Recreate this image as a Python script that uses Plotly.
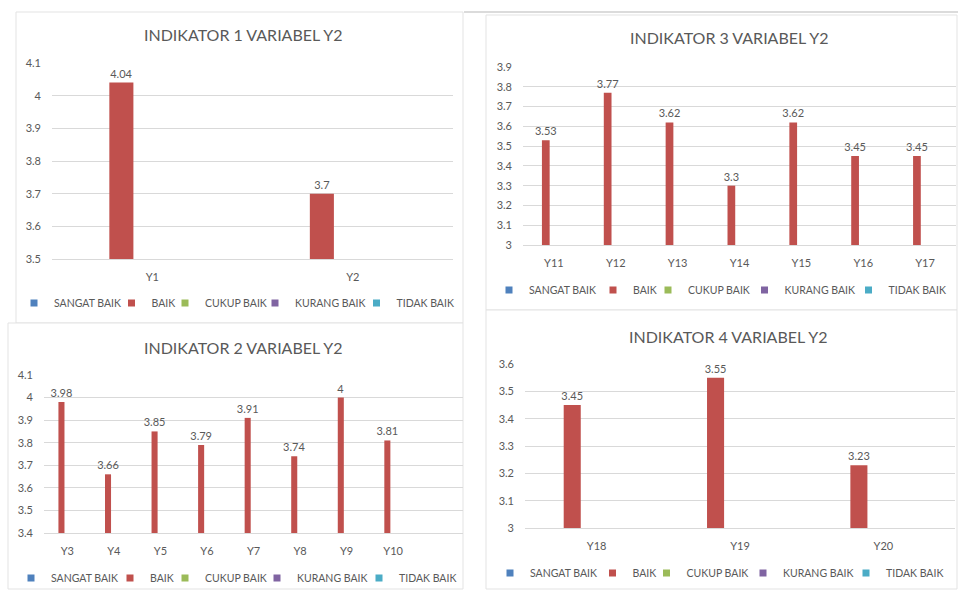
import plotly.graph_objects as go

# ---------------- data ----------------
SERIES = ["SANGAT BAIK", "BAIK", "CUKUP BAIK", "KURANG BAIK", "TIDAK BAIK"]
SERIES_COLORS = ["#4F81BD", "#C0504D", "#9BBB59", "#8064A2", "#4BACC6"]

TITLES = ["INDIKATOR 1 VARIABEL Y2", "INDIKATOR 2 VARIABEL Y2",
          "INDIKATOR 3 VARIABEL Y2", "INDIKATOR 4 VARIABEL Y2"]

CAT_1 = ["Y1", "Y2"]
BAIK_1 = [4.04, 3.7]
YRANGE_1 = [3.5, 4.1]

CAT_2 = ["Y3", "Y4", "Y5", "Y6", "Y7", "Y8", "Y9", "Y10"]
BAIK_2 = [3.98, 3.66, 3.85, 3.79, 3.91, 3.74, 4, 3.81]
YRANGE_2 = [3.4, 4.1]

CAT_3 = ["Y11", "Y12", "Y13", "Y14", "Y15", "Y16", "Y17"]
BAIK_3 = [3.53, 3.77, 3.62, 3.3, 3.62, 3.45, 3.45]
YRANGE_3 = [3.0, 3.9]

CAT_4 = ["Y18", "Y19", "Y20"]
BAIK_4 = [3.45, 3.55, 3.23]
YRANGE_4 = [3.0, 3.6]

CATS = [CAT_1, CAT_2, CAT_3, CAT_4]
VALUES = [BAIK_1, BAIK_2, BAIK_3, BAIK_4]
YRANGES = [YRANGE_1, YRANGE_2, YRANGE_3, YRANGE_4]

# ---------------- layout (pixels) ----------------
W, H = 958, 590
TXT = "#595959"
FONT = "Lato"
EXTRA = 6

PANELS = [
    dict(frame=(16, 12, 463, 323), box=(52, 63, 453, 259), title=(243, 35), leg_y=303,
         sq=[56, 147.5, 195, 279, 374.5], off=-0.214, bw=0.12, xr=None),
    dict(frame=(8, 323, 463, 589), box=(44, 375, 463, 533), title=(243, 347), leg_y=578,
         sq=[53, 146, 195, 281, 377], off=-0.19, bw=0.13, xr=[-0.5, 8.5]),
    dict(frame=(486, 15, 957, 310), box=(523, 67, 956, 245), title=(729, 38), leg_y=290,
         sq=[531, 629, 678, 768.5, 866.5], off=-0.194, bw=0.125, xr=None),
    dict(frame=(486, 310, 957, 589), box=(525, 364, 955, 528), title=(728, 336), leg_y=573,
         sq=[532, 628.5, 676.5, 767, 864], off=-0.23, bw=0.119, xr=None),
]


def px(x):
    return x / W


def py(y):
    return 1 - y / H


fig = go.Figure()
shapes = []
annotations = []
layout_axes = {}

for i, (cats, vals, yr, p) in enumerate(zip(CATS, VALUES, YRANGES, PANELS)):
    n = i + 1
    xa = "x" if n == 1 else f"x{n}"
    ya = "y" if n == 1 else f"y{n}"
    leg = "legend" if n == 1 else f"legend{n}"

    # panel frame
    fx0, fy0, fx1, fy1 = p["frame"]
    shapes.append(dict(type="rect", xref="paper", yref="paper", layer="below",
                       x0=px(fx0), x1=px(fx1), y0=py(fy1), y1=py(fy0),
                       line=dict(color="#E3E3E3", width=1), fillcolor="white"))

    # BAIK bars (drawn up from the axis minimum)
    fig.add_trace(go.Bar(
        x=cats, y=[v - yr[0] for v in vals], base=yr[0],
        text=[f"{v:g}" for v in vals], textposition="outside",
        constraintext="none",
        textfont=dict(family=FONT, size=11, color=TXT),
        cliponaxis=False,
        offset=p["off"], width=p["bw"],
        marker=dict(color=SERIES_COLORS[1], line=dict(width=0)),
        name=SERIES[1], showlegend=False,
        customdata=vals, hovertemplate="%{x}: %{customdata}<extra>BAIK</extra>",
        xaxis=xa, yaxis=ya,
    ))

    # legend entries
    sq = p["sq"]
    for k, (s, c) in enumerate(zip(SERIES, SERIES_COLORS)):
        lw = (sq[k + 1] - sq[k]) + EXTRA - 45 if k < len(sq) - 1 else 55
        fig.add_trace(go.Scatter(
            x=[None], y=[None], mode="markers", name=s,
            marker=dict(symbol="square", size=7, color=c),
            legend=leg, legendwidth=lw, xaxis=xa, yaxis=ya, hoverinfo="skip",
        ))

    bx0, by0, bx1, by1 = p["box"]
    xkey = "xaxis" if n == 1 else f"xaxis{n}"
    ykey = "yaxis" if n == 1 else f"yaxis{n}"
    xr = p["xr"] if p["xr"] is not None else [-0.5, len(cats) - 0.5]
    layout_axes[xkey] = dict(
        domain=[px(bx0), px(bx1)], anchor=ya, type="category",
        categoryorder="array", categoryarray=cats, range=xr,
        showgrid=False, showline=True, linecolor="#D9D9D9", linewidth=1,
        ticks="", ticklabelstandoff=8, zeroline=False, fixedrange=True,
        tickfont=dict(family=FONT, size=11, color=TXT),
    )
    layout_axes[ykey] = dict(
        domain=[py(by1), py(by0)], anchor=xa, range=yr,
        tick0=yr[0], dtick=0.1, showgrid=True, gridcolor="#D9D9D9", gridwidth=1,
        zeroline=False, showline=False, ticks="", ticklabelstandoff=10,
        fixedrange=True, tickfont=dict(family=FONT, size=11, color=TXT),
    )

    tx, ty = p["title"]
    annotations.append(dict(text=TITLES[i], xref="paper", yref="paper",
                            x=px(tx), y=py(ty), xanchor="center", yanchor="middle",
                            showarrow=False, font=dict(family=FONT, size=16, color=TXT)))

    layout_axes[leg] = dict(
        orientation="h", x=px(sq[0] - 30 - 2 * EXTRA), y=py(p["leg_y"]),
        xanchor="left", yanchor="middle", bgcolor="rgba(0,0,0,0)",
        font=dict(family=FONT, size=10.5, color=TXT), itemwidth=30,
        itemclick=False, itemdoubleclick=False, traceorder="normal",
    )

# separator line above right column
shapes.append(dict(type="line", xref="paper", yref="paper",
                   x0=px(464), x1=px(958), y0=py(12), y1=py(12),
                   line=dict(color="#CFCFCF", width=1.5)))

fig.update_layout(
    width=W, height=H, autosize=False,
    margin=dict(l=0, r=0, t=0, b=0, pad=0, autoexpand=False),
    paper_bgcolor="white", plot_bgcolor="rgba(0,0,0,0)",
    barmode="overlay", showlegend=True,
    shapes=shapes, annotations=annotations,
    font=dict(family=FONT, color=TXT),
    **layout_axes,
)

fig.write_html("out.html", config={"displayModeBar": False})
